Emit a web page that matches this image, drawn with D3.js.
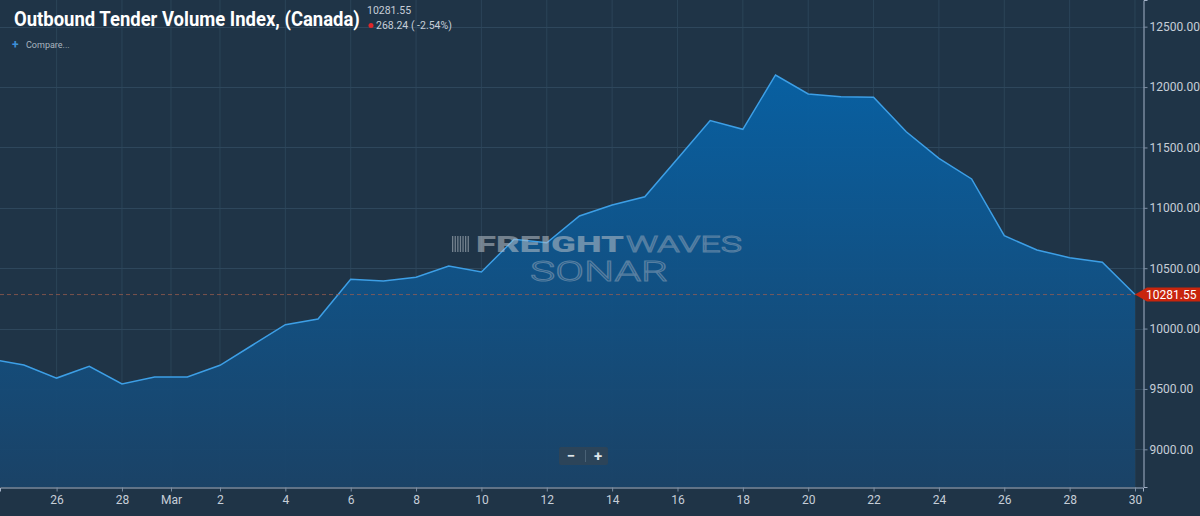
<!DOCTYPE html>
<html>
<head>
<meta charset="utf-8">
<script src="https://cdn.jsdelivr.net/npm/d3@7"></script>
<style>
	html, body { margin: 0; padding: 0; background: #1f3447; }
	svg { display: block; font-family: Roboto, 'Noto Sans', sans-serif; }
</style>
</head>
<body>
<div id="chart"></div>
<script>
// daily index values, Feb 24 - Mar 30 2020
const dates = [
	'2020-02-24', '2020-02-25', '2020-02-26', '2020-02-27', '2020-02-28', '2020-02-29',
	'2020-03-01', '2020-03-02', '2020-03-03', '2020-03-04', '2020-03-05', '2020-03-06',
	'2020-03-07', '2020-03-08', '2020-03-09', '2020-03-10', '2020-03-11', '2020-03-12',
	'2020-03-13', '2020-03-14', '2020-03-15', '2020-03-16', '2020-03-17', '2020-03-18',
	'2020-03-19', '2020-03-20', '2020-03-21', '2020-03-22', '2020-03-23', '2020-03-24',
	'2020-03-25', '2020-03-26', '2020-03-27', '2020-03-28', '2020-03-29', '2020-03-30'
]
const values = [
	9747, 9698, 9590, 9687, 9541, 9599,
	9599, 9696, 9864, 10032, 10079, 10408,
	10394, 10425, 10518, 10468, 10739, 10711,
	10932, 11023, 11092, 11407, 11722, 11650,
	12100, 11943, 11920, 11915, 11630, 11410,
	11239, 10769, 10651, 10587, 10549.79, 10281.55
]

const yTicks = [9000, 9500, 10000, 10500, 11000, 11500, 12000, 12500]
const xTickDates = [
	'2020-02-26', '2020-02-28', '2020-02-29T12:00', '2020-03-02', '2020-03-04', '2020-03-06',
	'2020-03-08', '2020-03-10', '2020-03-12', '2020-03-14', '2020-03-16', '2020-03-18',
	'2020-03-20', '2020-03-22', '2020-03-24', '2020-03-26', '2020-03-28', '2020-03-30'
]
const xTickLabels = [
	'26', '28', 'Mar', '2', '4', '6', '8', '10', '12', '14', '16', '18',
	'20', '22', '24', '26', '28', '30'
]

const title   = 'Outbound Tender Volume Index, (Canada)'
const last    = 10281.55
const change  = '268.24 ( -2.54%)'

const W = 1200, H = 516
const plotW = 1143, plotH = 487

const parse = s => new Date(s + (s.length > 10 ? ':00Z' : 'T00:00:00Z'))
const data  = dates.map((d, i) => ({ date: parse(d), value: values[i] }))

const x = d3.scaleUtc()
	.domain([new Date(Date.UTC(2020, 1, 24, 6, 26)), new Date(Date.UTC(2020, 2, 30, 5, 53))])
	.range([0, plotW])

const y = d3.scaleLinear()
	.domain([8688, 12721])
	.range([plotH, 0])

const svg = d3.select('#chart').append('svg')
	.attr('width', W)
	.attr('height', H)

svg.append('rect')
	.attr('width', W)
	.attr('height', H)
	.attr('fill', '#1f3447')

const defs = svg.append('defs')
const grad = defs.append('linearGradient')
	.attr('id', 'fill')
	.attr('x1', 0).attr('x2', 0).attr('y1', 0).attr('y2', 1)
grad.append('stop').attr('offset', '0%').attr('stop-color', '#0762a6')
grad.append('stop').attr('offset', '100%').attr('stop-color', '#1a4368')

defs.append('clipPath').attr('id', 'plot')
	.append('rect').attr('width', plotW).attr('height', plotH)

// Grid

const grid = svg.append('g').attr('class', 'grid')

grid.selectAll('line.v')
	.data(xTickDates)
	.enter()
	.append('line')
	.attr('x1', d => x(parse(d)))
	.attr('x2', d => x(parse(d)))
	.attr('y1', 0)
	.attr('y2', plotH)
	.attr('stroke', '#2b4458')
	.attr('stroke-width', 1)

grid.selectAll('line.h')
	.data(yTicks)
	.enter()
	.append('line')
	.attr('x1', 0)
	.attr('x2', plotW)
	.attr('y1', d => Math.round(y(d)) + 0.5)
	.attr('y2', d => Math.round(y(d)) + 0.5)
	.attr('stroke', '#2e475c')
	.attr('stroke-width', 1)

// Area + line

const plot = svg.append('g').attr('clip-path', 'url(#plot)')

plot.append('path')
	.datum(data)
	.attr('fill', 'url(#fill)')
	.attr('opacity', 0.95)
	.attr('d', d3.area()
		.x(d => x(d.date))
		.y0(plotH)
		.y1(d => y(d.value)))

// Watermark

const wm = svg.append('g').attr('opacity', 0.55)

wm.selectAll('rect')
	.data(d3.range(7))
	.enter()
	.append('rect')
	.attr('x', i => 452 + i * 2.6)
	.attr('y', 236)
	.attr('width', 1.3)
	.attr('height', 16)
	.attr('fill', '#b8c0c8')

wm.append('text')
	.attr('x', 476)
	.attr('y', 252)
	.attr('font-size', 22)
	.attr('font-weight', 900)
	.attr('fill', '#b8c0c8')
	.attr('textLength', 148)
	.attr('lengthAdjust', 'spacingAndGlyphs')
	.text('FREIGHT')

wm.append('text')
	.attr('x', 626)
	.attr('y', 252)
	.attr('font-size', 22)
	.attr('font-weight', 300)
	.attr('fill', 'none')
	.attr('stroke', '#8fa3b8')
	.attr('stroke-width', 1)
	.attr('textLength', 116)
	.attr('lengthAdjust', 'spacingAndGlyphs')
	.text('WAVES')

wm.append('text')
	.attr('x', 530)
	.attr('y', 281)
	.attr('font-size', 27)
	.attr('font-weight', 300)
	.attr('fill', 'none')
	.attr('stroke', '#8fa3b8')
	.attr('stroke-width', 1)
	.attr('textLength', 138)
	.attr('lengthAdjust', 'spacingAndGlyphs')
	.text('SONAR')

plot.append('path')
	.datum(data)
	.attr('fill', 'none')
	.attr('stroke', '#3d9fe6')
	.attr('stroke-width', 1.5)
	.attr('d', d3.line()
		.x(d => x(d.date))
		.y(d => y(d.value)))

// Last value line

svg.append('line')
	.attr('x1', 0)
	.attr('x2', plotW)
	.attr('y1', y(last))
	.attr('y2', y(last))
	.attr('stroke', '#a4604f')
	.attr('stroke-opacity', 0.7)
	.attr('stroke-dasharray', '4,3')

// Axes

svg.append('g')
	.attr('transform', `translate(${plotW + 0.5},0)`)
	.call(d3.axisRight(y)
		.tickValues(yTicks)
		.tickSize(4)
		.tickPadding(2)
		.tickFormat(d3.format('.2f')))

svg.append('g')
	.attr('transform', `translate(0,${plotH + 0.5})`)
	.call(d3.axisBottom(x)
		.tickValues(xTickDates.map(parse))
		.tickSize(4)
		.tickPadding(4)
		.tickFormat((d, i) => xTickLabels[i]))

svg.selectAll('.domain')
	.attr('stroke', '#a4b2c8')
svg.selectAll('.tick line')
	.attr('stroke', '#7d8ea3')
svg.selectAll('.tick text')
	.attr('fill', '#c6ced8')
	.attr('font-size', 12)
	.attr('font-family', 'Roboto, sans-serif')

// Price tag

const tagY = y(last)
const tag = svg.append('g')
tag.append('path')
	.attr('d', `M${plotW - 8},${tagY} L${plotW + 4},${tagY - 7} L${W},${tagY - 7} L${W},${tagY + 7} L${plotW + 4},${tagY + 7} Z`)
	.attr('fill', '#c8250d')
tag.append('text')
	.attr('x', plotW + 3)
	.attr('y', tagY + 4.5)
	.attr('font-size', 12)
	.attr('fill', '#fff')
	.text(d3.format('.2f')(last))

// Zoom buttons

const zb = svg.append('g').attr('transform', 'translate(559,447)')
zb.append('rect')
	.attr('width', 49)
	.attr('height', 18)
	.attr('rx', 2)
	.attr('fill', '#2c4459')
zb.append('line')
	.attr('x1', 26.5).attr('x2', 26.5).attr('y1', 3).attr('y2', 15)
	.attr('stroke', '#4a6276')
zb.append('text')
	.attr('x', 12).attr('y', 14)
	.attr('text-anchor', 'middle')
	.attr('font-size', 15).attr('font-weight', 700)
	.attr('fill', '#dfe5ea')
	.text('−')
zb.append('text')
	.attr('x', 39).attr('y', 14)
	.attr('text-anchor', 'middle')
	.attr('font-size', 15).attr('font-weight', 700)
	.attr('fill', '#dfe5ea')
	.text('+')

// Header (title squeezed to a condensed look)

const $title = svg.append('text')
	.attr('font-size', 21)
	.attr('font-weight', 700)
	.attr('fill', '#ffffff')
	.text(title)
const titleScale = 346 / $title.node().getComputedTextLength()
$title.attr('transform', `translate(14,26) scale(${titleScale},1)`)

svg.append('text')
	.attr('x', 367)
	.attr('y', 14)
	.attr('font-size', 10.5)
	.attr('fill', '#c6ced8')
	.text(d3.format('.2f')(last))

svg.append('circle')
	.attr('cx', 371)
	.attr('cy', 25.5)
	.attr('r', 2.5)
	.attr('fill', '#e0262a')

svg.append('text')
	.attr('x', 376)
	.attr('y', 29)
	.attr('font-size', 10.5)
	.attr('fill', '#c6ced8')
	.text(change)

svg.append('text')
	.attr('x', 12)
	.attr('y', 49)
	.attr('font-size', 12)
	.attr('font-weight', 700)
	.attr('fill', '#3d8fd8')
	.text('+')

svg.append('text')
	.attr('x', 26)
	.attr('y', 48)
	.attr('font-size', 9)
	.attr('fill', '#aab4bf')
	.text('Compare...')
</script>
</body>
</html>
